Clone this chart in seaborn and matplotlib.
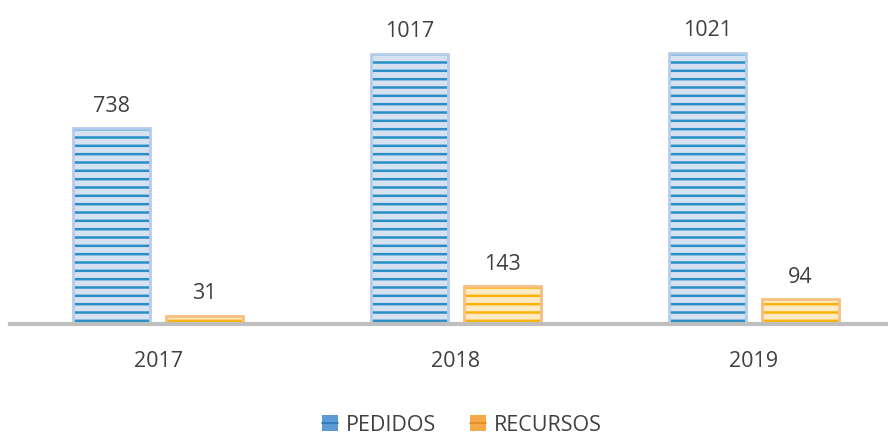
import pandas as pd
import seaborn as sns
import matplotlib.pyplot as plt
from matplotlib.patches import Patch
from matplotlib.lines import Line2D

# chart data
years = ['2017', '2018', '2019']
pedidos = [738, 1017, 1021]
recursos = [31, 143, 94]

df = pd.DataFrame({
    'Ano': years * 2,
    'Valor': pedidos + recursos,
    'Serie': ['PEDIDOS'] * 3 + ['RECURSOS'] * 3})

sns.set_style('white')
plt.rcParams['font.family'] = ['Open Sans', 'DejaVu Sans']
plt.rcParams['hatch.linewidth'] = 1.8

fill = {'PEDIDOS': '#d6e1f2', 'RECURSOS': '#fde9c2'}
stripe = {'PEDIDOS': '#2a8fc6', 'RECURSOS': '#f8b20c'}
edge = {'PEDIDOS': '#b5cdea', 'RECURSOS': '#f7bf80'}
text_col = '#404040'

fig = plt.figure(figsize=(8.88, 4.39), dpi=100)
ax = fig.add_axes([10 / 888, 114 / 439, 878 / 888, 325 / 439])

sns.barplot(data=df, x='Ano', y='Valor', hue='Serie', ax=ax,
            width=0.627, gap=0.18, palette=fill, legend=False)

series = ['PEDIDOS'] * 3 + ['RECURSOS'] * 3
for patch, s in zip(ax.patches, series):
    patch.set_facecolor(fill[s])
    patch.set_edgecolor(stripe[s])
    patch.set_hatch('--')
    patch.set_linewidth(0)
    # soft border drawn on top
    x, y = patch.get_xy()
    ax.add_patch(plt.Rectangle((x, y), patch.get_width(), patch.get_height(),
                               fill=False, edgecolor=edge[s], linewidth=2))

for cont in ax.containers:
    ax.bar_label(cont, padding=9, fontsize=15.5, color=text_col)

ax.set_ylim(0, 1224)
ax.set_xlim(-0.497, 2.45)
ax.set_xlabel('')
ax.set_ylabel('')
ax.set_yticks([])
ax.tick_params(axis='x', length=0, pad=19, labelsize=15.5, labelcolor=text_col)
for side in ['top', 'right', 'left']:
    ax.spines[side].set_visible(False)
ax.spines['bottom'].set_color('#bfbfbf')
ax.spines['bottom'].set_linewidth(3)

handles = [(Patch(facecolor='#5b9bd5', linewidth=0),
            Line2D([], [], color='#2e75b6', linewidth=1.2)),
           (Patch(facecolor='#f5a94a', linewidth=0),
            Line2D([], [], color='#e08a1e', linewidth=1.2))]
fig.legend(handles, ['PEDIDOS', 'RECURSOS'], loc='lower center',
           bbox_to_anchor=(0.52, -0.038), ncol=2, frameon=False,
           fontsize=15.5, labelcolor=text_col, handlelength=0.75, handleheight=0.75,
           handletextpad=0.35, columnspacing=1.6)

fig.savefig('out.png', dpi=100)
